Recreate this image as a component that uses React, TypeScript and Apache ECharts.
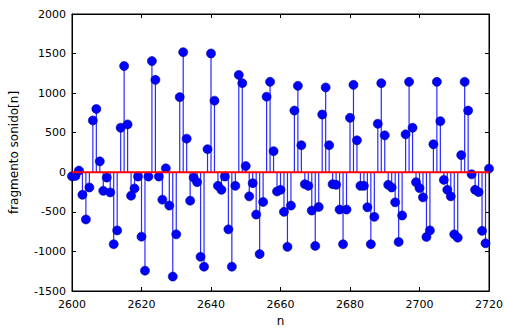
import React, { useEffect, useRef } from "react";
import * as echarts from "echarts";

const nStart = 2600;
const samples: number[] = [
  -50, -46, 21, -284, -596, -192, 655, 800, 138, -234,
  -67, -254, -909, -734, 563, 1343, 605, -296, -204, -54,
  -813, -1243, -54, 1405, 1168, -54, -346, 50, -421, -1318,
  -784, 950, 1518, 425, -359, -67, -125, -1068, -1193, 292,
  1501, 905, -171, -221, -54, -721, -1193, -171, 1230, 1126,
  79, -304, -138, -534, -1034, -375, 955, 1143, 267, -242,
  -221, -500, -942, -421, 780, 1093, 342, -150, -171, -484,
  -930, -438, 730, 1072, 342, -150, -158, -471, -909, -471,
  688, 1105, 404, -171, -171, -442, -909, -563, 613, 1126,
  467, -158, -192, -380, -880, -546, 480, 1143, 563, -125,
  -200, -317, -817, -734, 354, 1143, 646, -96, -221, -304,
  -784, -826, 217, 1143, 780, -25, -221, -250, -740, -897,
  46,
];
const xTicks = { min: 2600, max: 2720, interval: 20 };
const yTicks = { min: -1500, max: 2000, interval: 500 };
const xLabel = "n";
const yLabel = "fragmento sonido[n]";

export default function App() {
  const ref = useRef<HTMLDivElement>(null);
  useEffect(() => {
    if (!ref.current) return;
    const chart = echarts.init(ref.current, undefined, { renderer: "svg" });
    const pts = samples.map((v, i) => [nStart + i, v]);
    const font = "DejaVu Sans";
    const fmt = (v: number) => String(v);
    const axisCommon = {
      axisLine: { show: true, onZero: false, lineStyle: { color: "#000", width: 1 } },
      axisTick: { show: true, inside: true, length: 4, lineStyle: { color: "#000" } },
      splitLine: { show: false },
    };
    chart.setOption({
      animation: false,
      backgroundColor: "#fff",
      grid: { left: 70, right: 19, top: 14, bottom: 41, show: true, borderColor: "#000", borderWidth: 1, backgroundColor: "transparent" },
      xAxis: [
        {
          type: "value",
          ...xTicks,
          ...axisCommon,
          position: "bottom",
          name: xLabel,
          nameLocation: "middle",
          nameGap: 23,
          nameTextStyle: { fontFamily: font, fontSize: 12, color: "#000000" },
          axisLabel: { fontFamily: font, fontSize: 11, color: "#000", margin: 8, formatter: fmt },
        },
        {
          type: "value",
          ...xTicks,
          ...axisCommon,
          position: "top",
          axisLabel: { show: false },
        },
      ],
      yAxis: [
        {
          type: "value",
          ...yTicks,
          ...axisCommon,
          position: "left",
          name: yLabel,
          nameLocation: "middle",
          nameGap: 52,
          nameTextStyle: { fontFamily: font, fontSize: 12, color: "#000000" },
          axisLabel: { fontFamily: font, fontSize: 11, color: "#000", margin: 6, formatter: fmt },
        },
        {
          type: "value",
          ...yTicks,
          ...axisCommon,
          position: "right",
          axisLabel: { show: false },
        },
      ],
      series: [
        {
          type: "custom",
          clip: true,
          data: pts,
          encode: { x: 0, y: 1 },
          renderItem: (params: any, api: any) => {
            const x = api.value(0);
            const y = api.value(1);
            const p0 = api.coord([x, 0]);
            const p1 = api.coord([x, y]);
            return {
              type: "line",
              shape: { x1: p0[0], y1: p0[1], x2: p1[0], y2: p1[1] },
              style: { stroke: "#2a2aff", lineWidth: 1.2 },
            };
          },
          z: 2,
        },
        {
          type: "scatter",
          clip: true,
          data: pts,
          symbol: "circle",
          symbolSize: 9,
          itemStyle: { color: "#0000ff", borderColor: "#00008a", borderWidth: 0.6, opacity: 1 },
          z: 3,
        },
        {
          type: "line",
          data: [
            [xTicks.min, 0],
            [xTicks.max, 0],
          ],
          symbol: "none",
          lineStyle: { color: "#ff0000", width: 2 },
          z: 4,
        },
      ],
    });
    return () => chart.dispose();
  }, []);
  return (
    <div
      ref={ref}
      style={{ position: "fixed", left: 0, top: 0, width: 508, height: 332 }}
    />
  );
}
